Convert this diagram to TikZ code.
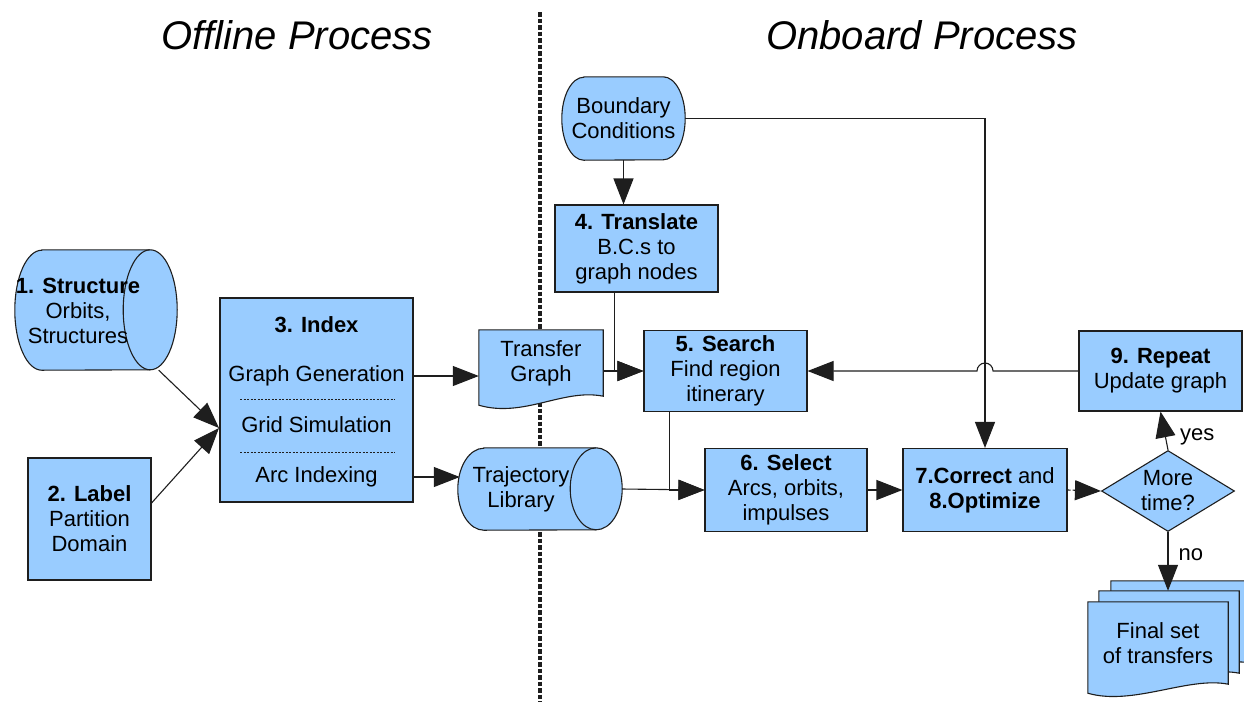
\documentclass[tikz,border=0pt]{standalone}
\usepackage{fontspec}
\setmainfont{Liberation Sans}
\usetikzlibrary{shapes.geometric,arrows.meta,backgrounds,positioning}

\definecolor{boxblue}{HTML}{99CCFF}
\definecolor{edgegray}{HTML}{1E1E1E}

\tikzset{
  block/.style={draw=edgegray, fill=boxblue, line width=1.1pt, align=center, inner sep=0pt},
  plain/.style={align=center, inner sep=0pt},
  link/.style={draw=edgegray, line width=1.1pt},
  arr/.style={link, -{Triangle[length=26pt,width=20pt]}},
}

% paper sheet with a wavy lower edge, drawn round a node
\newcommand{\docshape}[1]{%
  \draw[block] (#1.north west) -- (#1.north east) -- (#1.south east)
    .. controls ([xshift=-40pt,yshift=8pt]#1.south east) and ([xshift=45pt,yshift=-22pt]#1.south west)
    .. ([yshift=-9pt]#1.south west) -- cycle;}
% box with half-ellipse ends: #1 node, #2 x radius, #3 y radius
\newcommand{\roundends}[3]{%
  \draw[block] ([xshift=#2pt]#1.north west) -- ([xshift=-#2pt]#1.north east)
    arc[start angle=90, end angle=-90, x radius=#2, y radius=#3]
    -- ([xshift=#2pt]#1.south west)
    arc[start angle=270, end angle=90, x radius=#2, y radius=#3] -- cycle;}
% lying cylinder: same outline plus the inner rim of the right end
\newcommand{\cylshape}[3]{%
  \roundends{#1}{#2}{#3}
  \draw[link] ([xshift=-#2pt]#1.north east) arc[start angle=90, end angle=270, x radius=#2, y radius=#3];}

\begin{document}
\begin{tikzpicture}[x=1pt, y=1pt, font=\fontsize{22}{25}\selectfont]
    \clip (0,0) rectangle (1244,-702);

    % Titles
    \node[plain, font=\fontsize{40}{44}\selectfont\itshape] (offtitle) at (297,-35) {Offline Process};
    \node[plain, font=\fontsize{40}{44}\selectfont\itshape] (ontitle) at (922,-35) {Onboard Process};

    % Offline steps
    \node[plain, minimum width=162pt, minimum height=120pt] (struct) at (96,-310) {};
    \node[plain] (structtext) at (78,-311) {\textbf{1. Structure}\\Orbits,\\Structures};
    \node[block, minimum width=123pt, minimum height=122pt] (label) at (89.5,-519) {\textbf{2. Label}\\Partition\\Domain};
    \node[block, minimum width=193pt, minimum height=204pt] (index) at (316.5,-400) {};
    \node[plain] (idxhead) at (316.5,-325) {\textbf{3. Index}};
    \node[plain] (gengraph) at (316.5,-376) {Graph Generation};
    \node[plain] (gridsim) at (316.5,-425) {Grid Simulation};
    \node[plain] (arcidx) at (316.5,-477) {Arc Indexing};
    \draw[edgegray, line width=0.6pt, dash pattern=on 2pt off 1.5pt] (240,-399) -- (395,-399);
    \draw[edgegray, line width=0.6pt, dash pattern=on 2pt off 1.5pt] (240,-452) -- (395,-452);
    \coordinate (merge) at (219,-428);

    % Shared data
    \node[plain, minimum width=124pt, minimum height=66pt] (tgraph) at (541,-363) {Transfer\\Graph};
    \node[plain, minimum width=164pt, minimum height=82pt] (trajlib) at (540,-489) {};
    \node[plain] (trajtext) at (521,-489) {Trajectory\\Library};

    % Onboard steps
    \node[plain, minimum width=123pt, minimum height=83pt] (bcond) at (623.5,-118.5) {Boundary\\Conditions};
    \node[block, minimum width=163pt, minimum height=87pt] (translate) at (636.5,-248.5) {\textbf{4. Translate}\\B.C.s to\\graph nodes};
    \node[block, minimum width=163pt, minimum height=81pt] (search) at (725.5,-371) {\textbf{5. Search}\\Find region\\itinerary};
    \node[block, minimum width=162pt, minimum height=83pt] (select) at (786,-490) {\textbf{6. Select}\\Arcs, orbits,\\impulses};
    \node[block, minimum width=164pt, minimum height=83pt] (correct) at (985,-490) {\textbf{7.Correct} and\\\textbf{8.Optimize}};
    \node[block, minimum width=163pt, minimum height=80pt] (repeat) at (1160.5,-371) {\textbf{9. Repeat}\\Update graph};
    \node[block, diamond, aspect=1.64, minimum width=133pt, minimum height=81pt] (moretime) at (1168,-491) {More\\time?};
    \node[plain, minimum width=140pt, minimum height=82pt] (final3) at (1181,-622) {};
    \node[plain, minimum width=140pt, minimum height=82pt] (final2) at (1169,-632) {};
    \node[plain, minimum width=140pt, minimum height=82pt] (final) at (1158,-643) {Final set\\of transfers};

    % Outlines behind the text
    \begin{pgfonlayer}{background}
        \draw[edgegray, line width=3.4pt, dash pattern=on 4.5pt off 2pt] (540,-12) -- (540,-702);
        \cylshape{struct}{27}{60}
        \cylshape{trajlib}{26}{41}
        \docshape{tgraph}
        \docshape{final3}
        \docshape{final2}
        \docshape{final}
        \roundends{bcond}{22}{41.5}
    \end{pgfonlayer}

    % Arrows
    \draw[arr] (struct) -- (merge);
    \draw[arr] ([yshift=16pt]label.east) -- (merge);
    \draw[arr] (index.east |- gengraph) -- (tgraph.west |- gengraph);
    \draw[arr] (index.east |- arcidx) -- ([xshift=2pt]trajlib.west |- arcidx);
    \draw[arr] (bcond.south) -- (translate.north -| bcond.south);
    \draw[arr] (tgraph.east |- search) -- (search.west);
    \draw[arr] ([xshift=-22pt]translate.south) |- (search.west);
    \draw[arr] (trajlib.east) -- (select.west);
    \draw[arr] ([xshift=-56pt]search.south) |- (select.west);
    \draw[arr] (select) -- (correct);
    \draw[arr] (bcond.east) -| (correct.north);
    \draw[arr] (repeat.west) -- ([xshift=8pt]correct.north |- repeat.west)
        arc[start angle=0, end angle=180, radius=8] -- (search.east);
    \draw[arr, dash pattern=on 3pt off 2pt] (correct.east) -- (moretime.west);
    \draw[arr] (moretime.north) -- node[plain, right=14pt, pos=0.33] {yes} (repeat.south);
    \draw[arr] (moretime.south) -- node[plain, right=10pt, pos=0.38] {no} (moretime.south |- final2.north);
\end{tikzpicture}
\end{document}
